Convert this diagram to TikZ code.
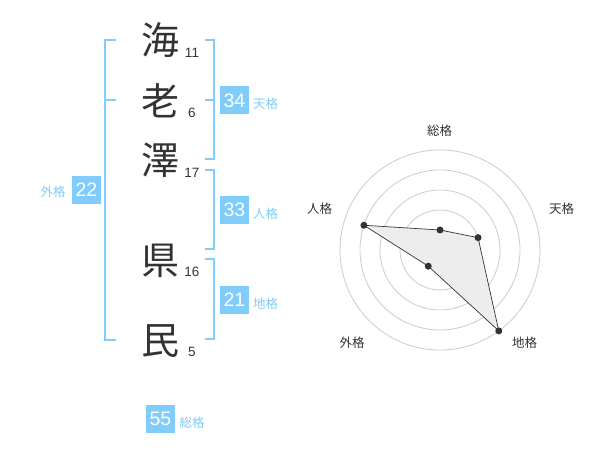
\documentclass[tikz,border=0pt]{standalone}
\usepackage{fontspec}
\setmainfont{Liberation Sans}
\newfontfamily\cjk{Noto Sans CJK JP}
\definecolor{kblue}{RGB}{128,204,250}
\definecolor{kdark}{RGB}{51,51,51}
\begin{document}
\begin{tikzpicture}[x=1pt,y=-1pt,
 bracket/.style={draw=kblue,line width=2pt},
 bignum/.style={fill=kblue,text=white,minimum width=29pt,minimum height=28pt,inner sep=0pt,font=\fontsize{19.5}{20}\selectfont},
 kaku/.style={text=kblue,font=\cjk\fontsize{12.5}{13}\selectfont,inner sep=0pt},
 kanji/.style={text=kdark,font=\cjk\fontsize{38}{38}\selectfont,inner sep=0pt},
 strk/.style={text=kdark,font=\fontsize{13.5}{14}\selectfont,inner sep=0pt,anchor=base},
 ring/.style={draw=black!20,line width=0.8pt},
 axislabel/.style={text=kdark,font=\cjk\fontsize{12.5}{13}\selectfont,inner sep=0pt},
 dot/.style={circle,fill=kdark,inner sep=0pt,minimum size=7pt}]
\useasboundingbox[fill=white] (0,0) rectangle (600,470);

% kanji
\node[kanji] (k1) at (160,40) {海};
\node[kanji] (k2) at (160,101) {老};
\node[kanji] (k3) at (160,160) {澤};
\node[kanji] (k4) at (160,261) {県};
\node[kanji] (k5) at (160,341) {民};
% strokes
\node[strk] (s1) at (192,57.5) {11};
\node[strk] (s2) at (192,117.5) {6};
\node[strk] (s3) at (192,177.5) {17};
\node[strk] (s4) at (192,277) {16};
\node[strk] (s5) at (192,357) {5};

% brackets
\draw[bracket] (116,40) -- (105,40) -- (105,340) -- (116,340);
\draw[bracket] (105,100) -- (116,100);
\draw[bracket] (205,40) -- (214,40) -- (214,159) -- (205,159);
\draw[bracket] (205,100) -- (214,100);
\draw[bracket] (205,170) -- (214,170) -- (214,249) -- (205,249);
\draw[bracket] (205,259) -- (214,259) -- (214,339) -- (205,339);

% boxes
\node[bignum] (b22) at (86.5,190) {22};
\node[kaku] (l22) at (53,192) {外格};
\node[bignum] (b34) at (234.5,100.5) {34};
\node[kaku] (l34) at (265.5,104) {天格};
\node[bignum] (b33) at (234.5,210) {33};
\node[kaku] (l33) at (265.5,213.5) {人格};
\node[bignum] (b21) at (234.5,300) {21};
\node[kaku] (l21) at (265.5,304) {地格};
\node[bignum] (b55) at (160.5,419) {55};
\node[kaku] (l55) at (192,423) {総格};

% radar
\coordinate (C) at (440,250);
\foreach \r in {20,40,60,80,100} \draw[ring] (C) circle[radius=\r pt];
\fill[black!20] (C) circle[radius=4pt];
\coordinate (pS) at ([shift={(90:20pt)}]C);
\coordinate (pT) at ([shift={(18:40pt)}]C);
\coordinate (pC) at ([shift={(-54:100pt)}]C);
\coordinate (pG) at ([shift={(-126:20pt)}]C);
\coordinate (pJ) at ([shift={(162:80pt)}]C);
\filldraw[fill=black!7,draw=kdark,line width=0.7pt] (pS) -- (pT) -- (pC) -- (pG) -- (pJ) -- cycle;
\node[dot] (dS) at (pS) {};
\node[dot] (dT) at (pT) {};
\node[dot] (dC) at (pC) {};
\node[dot] (dG) at (pG) {};
\node[dot] (dJ) at (pJ) {};
\node[axislabel] (aS) at (439.5,130.5) {総格};
\node[axislabel] (aT) at (561.5,208.5) {天格};
\node[axislabel] (aJ) at (319.5,208.5) {人格};
\node[axislabel] (aG) at (352,342.5) {外格};
\node[axislabel] (aC) at (524.5,342.5) {地格};
\end{tikzpicture}
\end{document}
